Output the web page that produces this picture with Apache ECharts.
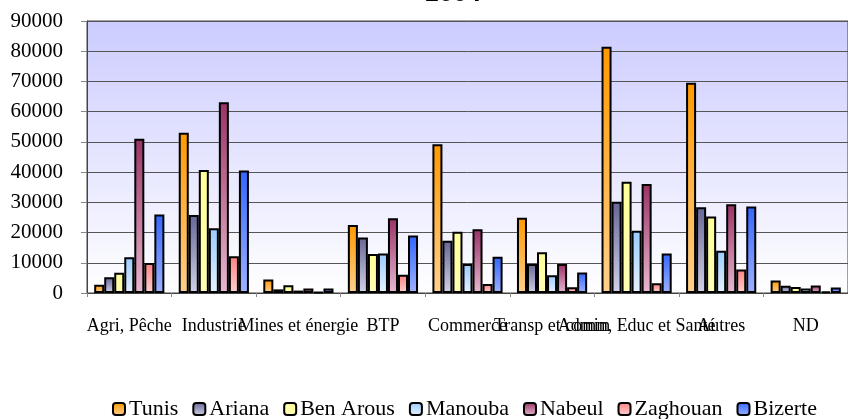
<!DOCTYPE html>
<html>
<head>
<meta charset="utf-8">
<script src="https://cdn.jsdelivr.net/npm/echarts@6/dist/echarts.min.js"></script>
<style>html,body{margin:0;padding:0;background:#fff;}#c{width:848px;height:419px;}</style>
</head>
<body>
<div id="c"></div>
<script>
const categories = ['Agri, Pêche','Industrie','Mines et énergie','BTP','Commerce','Transp et comm','Admin, Educ et Santé','Autres','ND'];
const yTicks = {min: 0, max: 90000, interval: 10000};
const tunis     = [2700, 53000, 4500, 22500, 49200, 24900, 81500, 69600, 4100];
const ariana    = [5200, 25800, 1200, 18400, 17300,  9600, 30200, 28400, 2400];
const benArous  = [6700, 40700, 2600, 12900, 20300, 13500, 36800, 25300, 2000];
const manouba   = [11800, 21400, 800, 13100,  9600,  5900, 20600, 14000, 1500];
const nabeul    = [51000, 63100, 1500, 24700, 21100,  9600, 36100, 29400, 2500];
const zaghouan  = [9900, 12200, 300,  6000,  3000,  1900,  3200,  7800,  500];
const bizerte   = [26000, 40500, 1500, 19000, 12000,  6800, 13100, 28600, 1800];
const seriesNames = ['Tunis','Ariana','Ben Arous','Manouba','Nabeul','Zaghouan','Bizerte'];
const seriesData = [tunis, ariana, benArous, manouba, nabeul, zaghouan, bizerte];
const colorsTop = ['#FF9900','#666699','#FFFF99','#99CCFF','#993366','#FF8080','#3366FF'];
const colorsBottom = ['#FFD08C','#D2D2E8','#FFFFB4','#E6F2FF','#E8B8D0','#FFD2D2','#9EB2FF'];

const serif = "'Liberation Serif','Times New Roman',serif";
const chart = echarts.init(document.getElementById('c'));
const grad = (a, b) => new echarts.graphic.LinearGradient(0, 0, 0, 1, [{offset: 0, color: a}, {offset: 1, color: b}]);

chart.setOption({
  animation: false,
  title: {
    text: '2004', left: 448, textAlign: 'center', top: -25,
    textStyle: {fontFamily: serif, fontSize: 28, fontWeight: 'bold', color: '#000', lineHeight: 28}
  },
  legend: {
    top: 393, right: 26, width: 820,
    itemWidth: 12, itemHeight: 12, itemGap: 14,
    textStyle: {fontFamily: serif, fontSize: 22, color: '#000', padding: [0, 0, 0, -1]},
    data: seriesNames
  },
  grid: {
    left: 87, right: -4, top: 21, bottom: 126,
    show: true, borderColor: '#444', borderWidth: 1,
    backgroundColor: grad('#CCCCFF', '#FFFFFF')
  },
  xAxis: {
    type: 'category', data: categories,
    axisLine: {lineStyle: {color: '#444', width: 1}},
    axisTick: {show: true, length: 4, lineStyle: {color: '#888'}},
    axisLabel: {interval: 0, margin: 24, fontFamily: serif, fontSize: 18, color: '#000', hideOverlap: false}
  },
  yAxis: {
    type: 'value', min: yTicks.min, max: yTicks.max, interval: yTicks.interval,
    axisLine: {show: true, lineStyle: {color: '#444'}},
    axisTick: {show: true, length: 6, lineStyle: {color: '#888'}},
    axisLabel: {margin: 24, fontFamily: serif, fontSize: 21, color: '#000', formatter: v => String(v)},
    splitLine: {lineStyle: {color: '#555', width: 1}}
  },
  series: seriesNames.map((n, i) => ({
    name: n, type: 'bar', data: seriesData[i],
    barGap: '0%', barCategoryGap: '17%',
    itemStyle: {color: grad(colorsTop[i], colorsBottom[i]), borderColor: '#000', borderWidth: 2}
  }))
});
</script>
</body>
</html>
